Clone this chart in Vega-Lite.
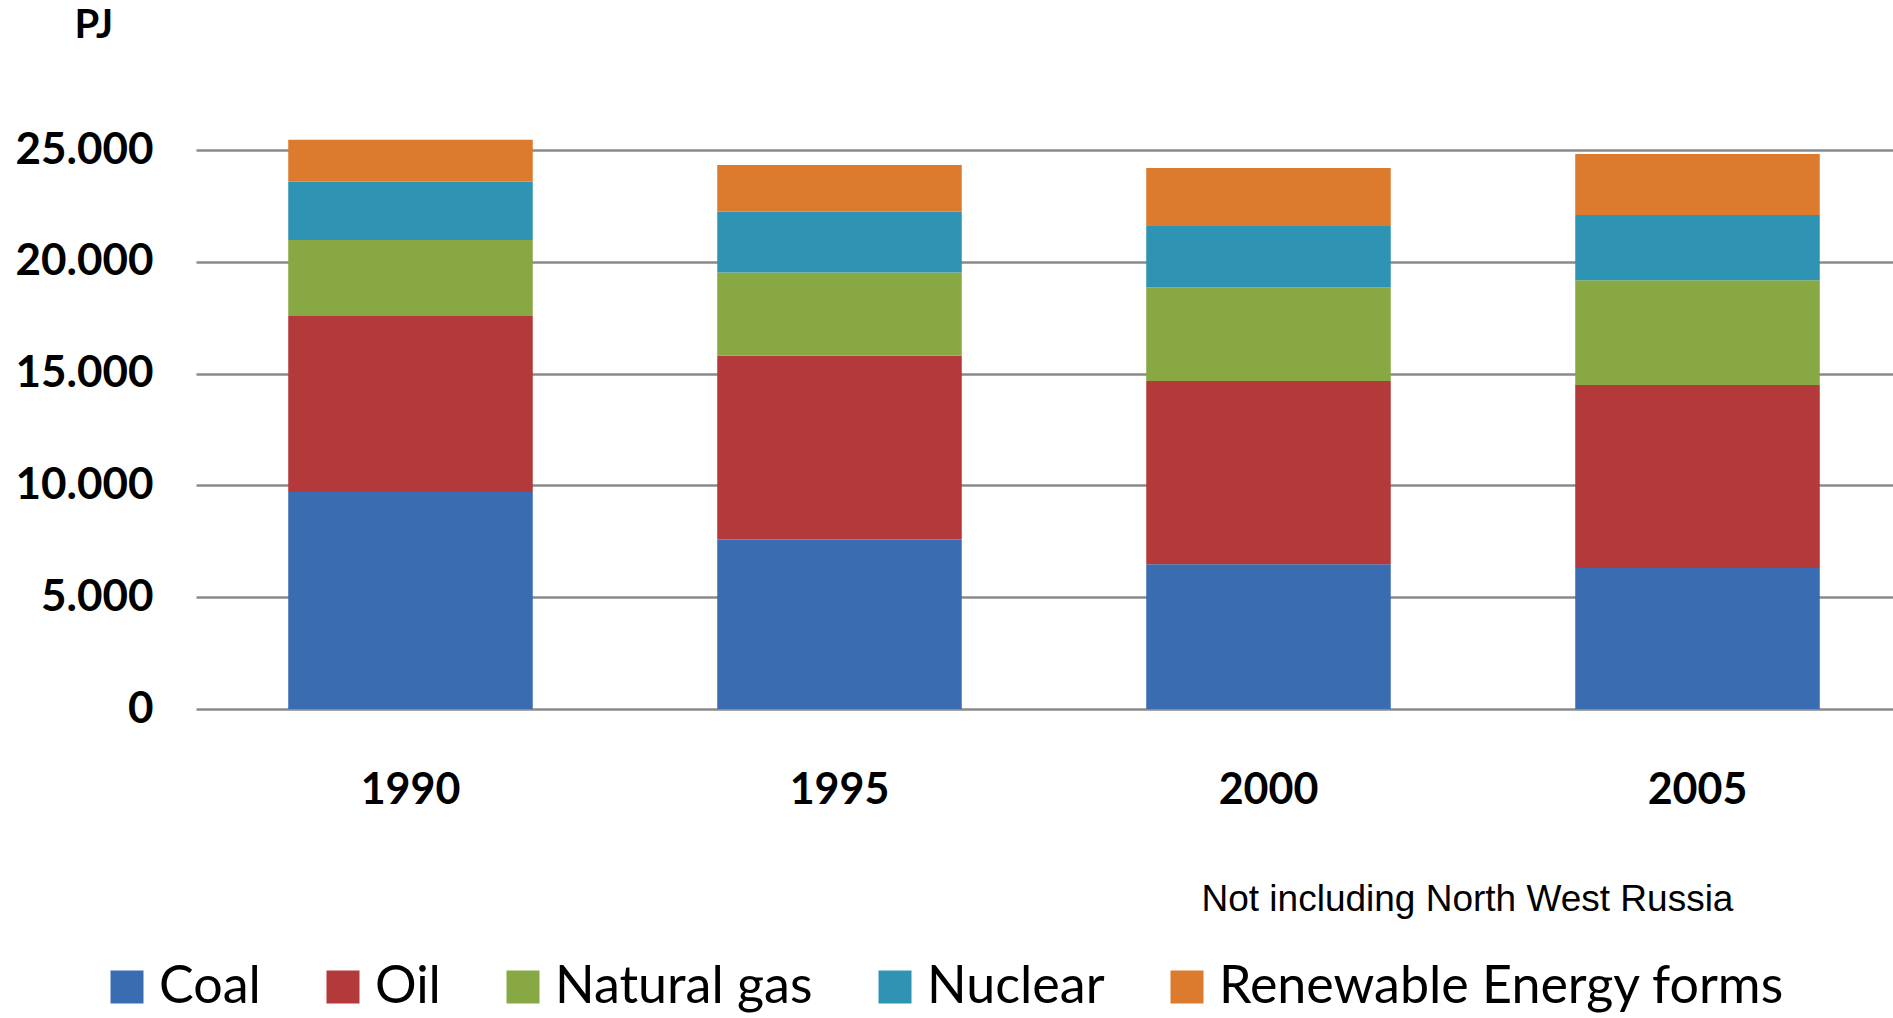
{
  "$schema": "https://vega.github.io/schema/vega-lite/v6.json",
  "autosize": {"type": "none"},
  "width": 1697,
  "height": 559,
  "padding": {"left": 196, "top": 150, "right": 0, "bottom": 309},
  "background": "white",
  "data": {
    "values": [
      {"year": "1990", "source": "Coal", "value": 9700},
      {"year": "1990", "source": "Oil", "value": 7880},
      {"year": "1990", "source": "Natural gas", "value": 3400},
      {"year": "1990", "source": "Nuclear", "value": 2610},
      {"year": "1990", "source": "Renewable Energy forms", "value": 1870},
      {"year": "1995", "source": "Coal", "value": 7580},
      {"year": "1995", "source": "Oil", "value": 8220},
      {"year": "1995", "source": "Natural gas", "value": 3720},
      {"year": "1995", "source": "Nuclear", "value": 2730},
      {"year": "1995", "source": "Renewable Energy forms", "value": 2080},
      {"year": "2000", "source": "Coal", "value": 6470},
      {"year": "2000", "source": "Oil", "value": 8200},
      {"year": "2000", "source": "Natural gas", "value": 4190},
      {"year": "2000", "source": "Nuclear", "value": 2740},
      {"year": "2000", "source": "Renewable Energy forms", "value": 2590},
      {"year": "2005", "source": "Coal", "value": 6310},
      {"year": "2005", "source": "Oil", "value": 8180},
      {"year": "2005", "source": "Natural gas", "value": 4690},
      {"year": "2005", "source": "Nuclear", "value": 2910},
      {"year": "2005", "source": "Renewable Energy forms", "value": 2730}
    ]
  },
  "transform": [
    {"calculate": "indexof(['Coal', 'Oil', 'Natural gas', 'Nuclear', 'Renewable Energy forms'], datum.source)", "as": "stackOrder"}
  ],
  "mark": {"type": "bar"},
  "encoding": {
    "x": {
      "field": "year",
      "type": "nominal",
      "scale": {"range": [0, 1716], "paddingInner": 0.43, "paddingOuter": 0.215},
      "axis": {
        "title": "Not including North West Russia",
        "titleFont": "Liberation Sans",
        "titleFontSize": 37,
        "titleFontWeight": "normal",
        "titleColor": "black",
        "titleAnchor": "start",
        "titleAlign": "left",
        "titleBaseline": "alphabetic",
        "titleX": 1005,
        "titleY": 201,
        "labelAngle": 0,
        "labelFont": "Lato",
        "labelFontWeight": "bold",
        "labelFontSize": 43,
        "labelColor": "black",
        "labelPadding": 60,
        "ticks": false,
        "domain": false,
        "grid": false
      }
    },
    "y": {
      "field": "value",
      "type": "quantitative",
      "stack": "zero",
      "scale": {"domain": [0, 25000], "nice": false},
      "axis": {
        "title": "PJ",
        "titleFont": "Lato",
        "titleFontSize": 40,
        "titleFontWeight": "bold",
        "titleColor": "black",
        "titleAngle": 0,
        "titleAlign": "left",
        "titleBaseline": "alphabetic",
        "titleX": -122,
        "titleY": -113,
        "values": [0, 5000, 10000, 15000, 20000, 25000],
        "labelExpr": "replace(format(datum.value, ',d'), ',', '.')",
        "labelFont": "Lato",
        "labelFontWeight": "bold",
        "labelFontSize": 44,
        "labelColor": "black",
        "labelPadding": 43,
        "ticks": false,
        "domain": false,
        "grid": true,
        "gridColor": "#8a8a8a",
        "gridWidth": 2.5
      }
    },
    "order": {"field": "stackOrder", "type": "quantitative", "sort": "ascending"},
    "color": {
      "field": "source",
      "type": "nominal",
      "sort": ["Coal", "Oil", "Natural gas", "Nuclear", "Renewable Energy forms"],
      "scale": {
        "domain": ["Coal", "Oil", "Natural gas", "Nuclear", "Renewable Energy forms"],
        "range": ["#3a6cb2", "#b3393a", "#87a843", "#2f94b3", "#dc7b2e"]
      },
      "legend": {
        "title": null,
        "orient": "none",
        "legendX": -95,
        "legendY": 811,
        "direction": "horizontal",
        "columns": 5,
        "columnPadding": 56,
        "symbolType": "square",
        "symbolSize": 1089,
        "symbolStrokeWidth": 0,
        "labelFont": "Lato",
        "labelFontSize": 52,
        "labelColor": "black",
        "labelOffset": 6,
        "labelLimit": 1000
      }
    }
  },
  "config": {"view": {"stroke": null}}
}
